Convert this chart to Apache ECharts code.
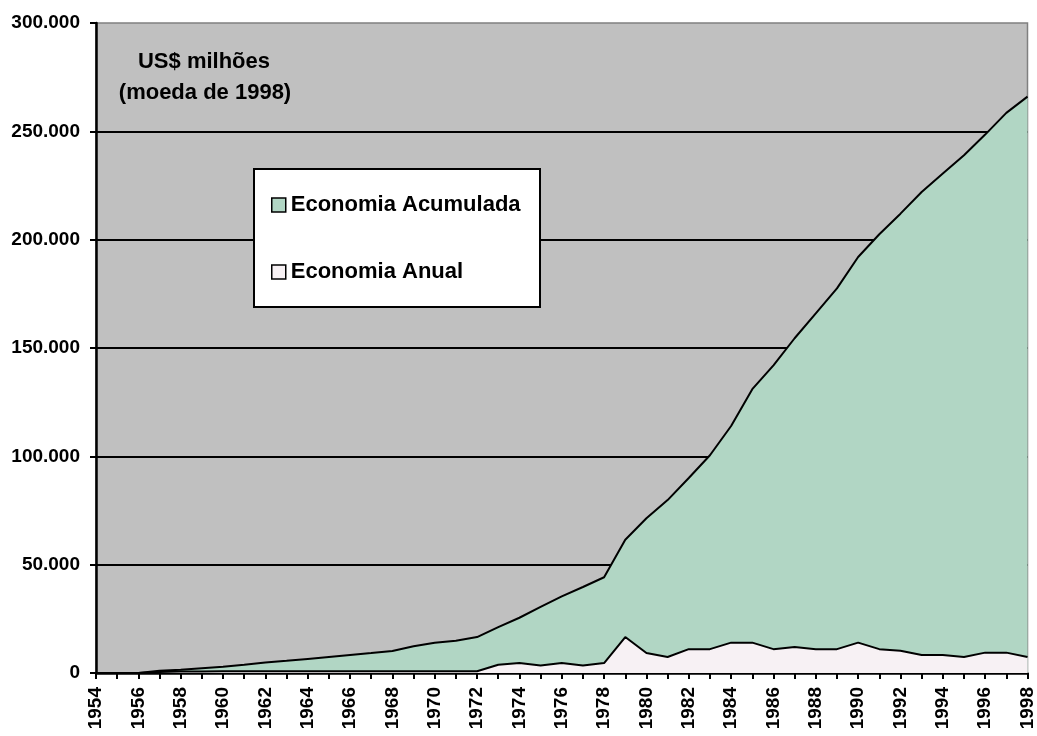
<!DOCTYPE html>
<html>
<head>
<meta charset="utf-8">
<script src="https://cdn.jsdelivr.net/npm/echarts@6/dist/echarts.min.js"></script>
<style>
html,body{margin:0;padding:0;background:#fff;}
#chart{width:1037px;height:736px;}
</style>
</head>
<body>
<div id="chart"></div>
<script>
// Years (categories)
var years = [];
for (var y = 1954; y <= 1998; y++) years.push(String(y));

// Economia Acumulada (US$ milhões, moeda de 1998)
var acumulada = ['-', '-', 0, 1000, 1500, 2200, 2900, 3800, 4800, 5600, 6500, 7400, 8300, 9200, 10200,
  12300, 14000, 14900, 16600, 21200, 25500, 30500, 35400, 39700, 44200,
  61500, 71400, 79800, 90000, 100500, 114000, 131000, 142000, 154500, 166000,
  177500, 192000, 202500, 212000, 222000, 230500, 239000, 248500, 258500, 266000];

// Economia Anual
var anual = ['-', '-', 0, 500, 700, 700, 800, 800, 800, 800, 800, 800, 800, 800, 800,
  800, 800, 800, 800, 3800, 4600, 3500, 4600, 3500, 4600,
  16600, 9200, 7400, 11000, 11000, 14000, 14000, 11000, 12000, 11000,
  11000, 14000, 11000, 10300, 8300, 8300, 7400, 9400, 9400, 7400];

var seriesNames = ['Economia Acumulada', 'Economia Anual'];
var annotation = ['US$ milhões', '(moeda de 1998)'];

function fmt(v) {
  var s = String(Math.round(v));
  return s.replace(/\B(?=(\d{3})+(?!\d))/g, '.');
}

var chart = echarts.init(document.getElementById('chart'), null, {renderer: 'canvas'});
var font = '"Liberation Sans", Arial, sans-serif';

chart.setOption({
  backgroundColor: '#ffffff',
  animation: false,
  grid: {
    left: 96, right: 9, top: 23, bottom: 63,
    show: true, backgroundColor: '#C0C0C0', borderColor: '#808080', borderWidth: 1.5
  },
  xAxis: {
    type: 'category',
    data: years,
    boundaryGap: false,
    axisLine: {lineStyle: {color: '#000', width: 2.5}},
    axisTick: {show: true, interval: 0, length: 6, lineStyle: {color: '#000', width: 2}},
    axisLabel: {
      interval: 1, rotate: 90, margin: 14,
      color: '#000', fontFamily: font, fontWeight: 'bold', fontSize: 19
    },
    splitLine: {show: false}
  },
  yAxis: {
    type: 'value',
    min: 0, max: 300000, interval: 50000,
    axisLine: {show: true, lineStyle: {color: '#000', width: 2.5}},
    axisTick: {show: true, length: 6, lineStyle: {color: '#000', width: 2}},
    axisLabel: {
      formatter: fmt, margin: 16,
      color: '#000', fontFamily: font, fontWeight: 'bold', fontSize: 19
    },
    splitLine: {show: true, showMaxLine: false, lineStyle: {color: '#000', width: 1.8}}
  },
  legend: {
    orient: 'vertical',
    left: 271, top: 194,
    padding: 0,
    itemGap: 45,
    itemWidth: 14, itemHeight: 14,
    icon: 'rect',
    z: 20,
    itemStyle: {borderColor: '#000', borderWidth: 1.5},
    textStyle: {color: '#000', fontFamily: font, fontWeight: 'bold', fontSize: 22},
    data: seriesNames
  },
  graphic: [
    {
      type: 'rect', z: 10,
      shape: {x: 254, y: 169, width: 286, height: 138},
      style: {fill: '#fff', stroke: '#000', lineWidth: 2}
    },
    {
      type: 'text', z: 10, x: 204, y: 62,
      style: {text: annotation[0], fill: '#000', font: 'bold 22px ' + font, textAlign: 'center', textVerticalAlign: 'middle'}
    },
    {
      type: 'text', z: 10, x: 205, y: 93,
      style: {text: annotation[1], fill: '#000', font: 'bold 22px ' + font, textAlign: 'center', textVerticalAlign: 'middle'}
    }
  ],
  series: [
    {
      name: seriesNames[0],
      type: 'line',
      data: acumulada,
      symbol: 'none',
      z: 2,
      itemStyle: {color: '#B1D6C4'},
      lineStyle: {color: '#000', width: 2},
      areaStyle: {color: '#B1D6C4', opacity: 1}
    },
    {
      name: seriesNames[1],
      type: 'line',
      data: anual,
      symbol: 'none',
      z: 3,
      itemStyle: {color: '#F7F1F4'},
      lineStyle: {color: '#000', width: 2},
      areaStyle: {color: '#F7F1F4', opacity: 1}
    }
  ]
});
</script>
</body>
</html>
